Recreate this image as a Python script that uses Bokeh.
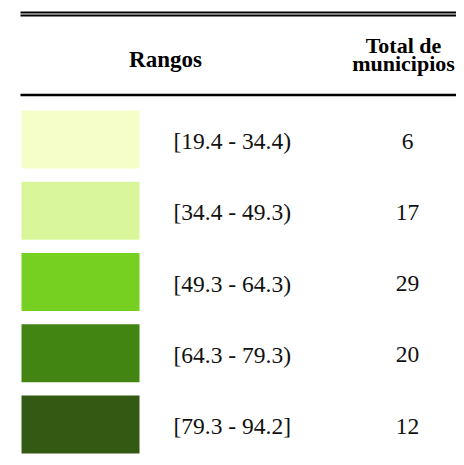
from bokeh.plotting import figure
from bokeh.models import Range1d
from bokeh.core.properties import value
from bokeh.embed import file_html
from bokeh.resources import INLINE

# ---- data ----
header_left = ["Rangos"]
header_right = ["Total de", "municipios"]
ranges = ["[19.4 - 34.4)", "[34.4 - 49.3)", "[49.3 - 64.3)", "[64.3 - 79.3)", "[79.3 - 94.2]"]
counts = [6, 17, 29, 20, 12]
colors = ["#F5FDC8", "#D9F79A", "#76D022", "#428513", "#325A12"]

# ---- layout (pixel coordinates) ----
W, H = 456, 457
ROW0, STEP = 142, 71.25
TXT_DY = -1.5   # offset of text baseline relative to row centre
FONT = value("Liberation Serif")

p = figure(width=W, height=H, x_range=Range1d(0, W), y_range=Range1d(H, 0),
           output_backend="svg", toolbar_location=None, min_border=0, title=None,
           x_axis_location=None, y_axis_location=None)
p.grid.visible = False
p.outline_line_color = None
p.background_fill_color = "white"
p.border_fill_color = "white"

n = len(ranges)
yc = [ROW0 + i * STEP for i in range(n)]

# rules
p.segment(x0=[20, 20], x1=[470, 470], y0=[12, 15], y1=[12, 15], line_color="black", line_width=2)
p.segment(x0=[20], x1=[470], y0=[94.5], y1=[94.5], line_color="black", line_width=2.5)

# headers
p.text(x=[165], y=[58.5], text=header_left, text_font=FONT, text_font_size="23px",
       text_font_style="bold", text_align="center", text_baseline="alphabetic", text_color="black")
p.text(x=[403, 403], y=[44.5, 63], text=header_right, text_font=FONT, text_font_size="22px",
       text_font_style="bold", text_align="center", text_baseline="alphabetic", text_color="black")

# swatches
p.rect(x=[80] * n, y=[y - 3 for y in yc], width=118, height=58, fill_color=colors, line_color=None)

# labels
p.text(x=[173] * n, y=[y + TXT_DY for y in yc], text=ranges, text_font=FONT, text_font_size="23.5px",
       text_align="left", text_baseline="alphabetic", text_color="#111111")
p.text(x=[407] * n, y=[y + TXT_DY for y in yc], text=[str(c) for c in counts], text_font=FONT,
       text_font_size="23.5px", text_align="center", text_baseline="alphabetic", text_color="#111111")

open("out.html", "w").write(file_html(p, INLINE))
